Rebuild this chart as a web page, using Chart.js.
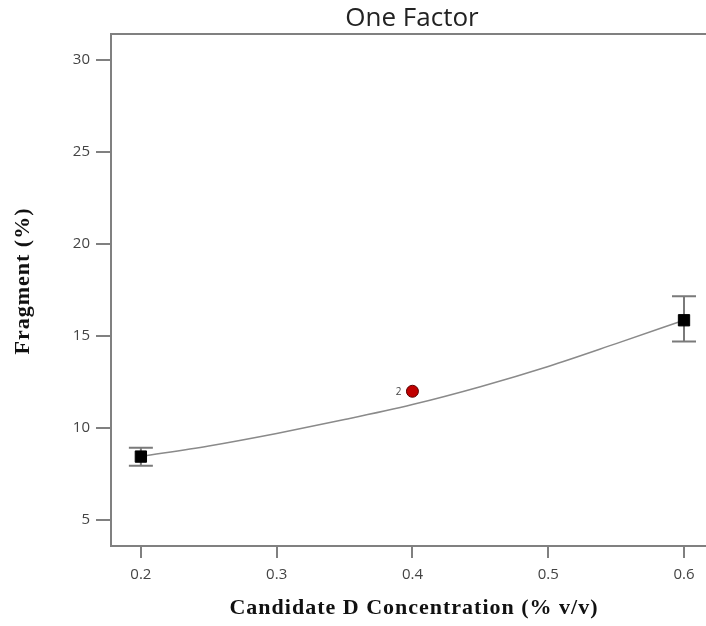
<!DOCTYPE html>
<html>
<head>
<meta charset="utf-8">
<script src="https://cdn.jsdelivr.net/npm/chart.js@4.4.1/dist/chart.umd.min.js"></script>
<style>
  html, body { margin: 0; padding: 0; background: #fff; }
  #wrap { width: 706px; height: 626px; }
</style>
</head>
<body>
<div id="wrap"><canvas id="chart" width="706" height="626"></canvas></div>
<script>
// fitted model curve
const curveX = [0.2, 0.25, 0.3, 0.35, 0.4, 0.45, 0.5, 0.55, 0.6];
const curveY = [8.42, 9.0, 9.68, 10.43, 11.25, 12.22, 13.32, 14.56, 15.83];

// design points (black squares) with their error bars
const designX = [0.2, 0.6];
const designY = [8.42, 15.83];
const errLow = [7.92, 14.68];
const errHigh = [8.9, 17.13];

// centre point (red, 2 replicates)
const centerX = [0.4];
const centerY = [11.97];
const centerLabels = ["2"];

const xTicks = [0.2, 0.3, 0.4, 0.5, 0.6];
const yTicks = [5, 10, 15, 20, 25, 30];

const axisGray = "#808080";

const extrasPlugin = {
  id: "extras",
  beforeDatasetsDraw(chart) {
    const { ctx, scales } = chart;
    const x = scales.x;
    const y = scales.y;

    ctx.save();
    ctx.strokeStyle = "#7a7a7a";
    ctx.lineWidth = 2;
    designX.forEach((v, i) => {
      const px = x.getPixelForValue(v);
      const top = y.getPixelForValue(errHigh[i]);
      const bot = y.getPixelForValue(errLow[i]);
      ctx.beginPath();
      ctx.moveTo(px, top);
      ctx.lineTo(px, bot);
      ctx.moveTo(px - 12, top);
      ctx.lineTo(px + 12, top);
      ctx.moveTo(px - 12, bot);
      ctx.lineTo(px + 12, bot);
      ctx.stroke();
    });
    ctx.restore();
  },
  afterDraw(chart) {
    const { ctx, chartArea, scales } = chart;

    ctx.save();

    // top frame line
    ctx.strokeStyle = axisGray;
    ctx.lineWidth = 2;
    ctx.beginPath();
    ctx.moveTo(chartArea.left - 1, chartArea.top);
    ctx.lineTo(chartArea.right, chartArea.top);
    ctx.stroke();

    // replicate label next to the centre point
    ctx.fillStyle = "#444";
    ctx.font = "10px 'Open Sans'";
    ctx.textAlign = "right";
    ctx.textBaseline = "middle";
    centerX.forEach((v, i) => {
      const px = scales.x.getPixelForValue(v);
      const py = scales.y.getPixelForValue(centerY[i]);
      ctx.fillText(centerLabels[i], px - 11, py + 1);
    });

    // title
    ctx.fillStyle = "#222";
    ctx.font = "26px 'Open Sans'";
    ctx.textAlign = "center";
    ctx.fillText("One Factor", 412, 19);

    // axis titles
    ctx.fillStyle = "#111";
    ctx.font = "bold 22px 'Liberation Serif'";
    ctx.letterSpacing = "1px";
    ctx.fillText("Candidate D Concentration (% v/v)", 414, 608);

    ctx.translate(23, 281);
    ctx.rotate(-Math.PI / 2);
    ctx.fillText("Fragment (%)", 0, 0);

    ctx.restore();
  },
};

new Chart(document.getElementById("chart"), {
  data: {
    datasets: [
      {
        type: "scatter",
        label: "design",
        order: 1,
        data: designX.map((v, i) => ({ x: v, y: designY[i] })),
        pointStyle: "rect",
        pointRadius: 8,
        backgroundColor: "#000",
        borderColor: "#000",
        borderWidth: 1,
      },
      {
        type: "scatter",
        label: "center",
        order: 1,
        data: centerX.map((v, i) => ({ x: v, y: centerY[i] })),
        pointStyle: "circle",
        pointRadius: 6,
        backgroundColor: "#c00000",
        borderColor: "#5a0000",
        borderWidth: 1,
      },
      {
        type: "line",
        label: "model",
        order: 3,
        data: curveX.map((v, i) => ({ x: v, y: curveY[i] })),
        borderColor: "#8a8a8a",
        borderWidth: 1.5,
        pointRadius: 0,
        fill: false,
        cubicInterpolationMode: "monotone",
      },
    ],
  },
  options: {
    responsive: false,
    devicePixelRatio: 1,
    animation: false,
    layout: { autoPadding: false, padding: { top: 34, right: 0, bottom: 0, left: 0 } },
    plugins: {
      legend: { display: false },
      tooltip: { enabled: false },
    },
    scales: {
      x: {
        type: "linear",
        position: "bottom",
        min: 0.178,
        max: 0.6162,
        afterBuildTicks: (s) => {
          s.ticks = xTicks.map((v) => ({ value: v }));
        },
        afterFit: (s) => {
          s.height = 80;
          s.paddingLeft = 0;
          s.paddingRight = 0;
        },
        ticks: {
          color: "#444",
          font: { family: "'Open Sans'", size: 15 },
          padding: 8,
          callback: (v) => v.toFixed(1),
        },
        grid: {
          drawOnChartArea: false,
          drawTicks: true,
          tickLength: 12,
          color: axisGray,
          lineWidth: 2,
        },
        border: { color: axisGray, width: 2 },
      },
      y: {
        type: "linear",
        min: 3.56,
        max: 31.39,
        afterBuildTicks: (s) => {
          s.ticks = yTicks.map((v) => ({ value: v }));
        },
        afterFit: (s) => {
          s.width = 111;
          s.paddingTop = 0;
          s.paddingBottom = 0;
        },
        ticks: {
          color: "#444",
          font: { family: "'Open Sans'", size: 15 },
          padding: 6,
        },
        grid: {
          drawOnChartArea: false,
          drawTicks: true,
          tickLength: 15,
          color: axisGray,
          lineWidth: 2,
        },
        border: { color: axisGray, width: 2 },
      },
    },
  },
  plugins: [extrasPlugin],
});
</script>
</body>
</html>
